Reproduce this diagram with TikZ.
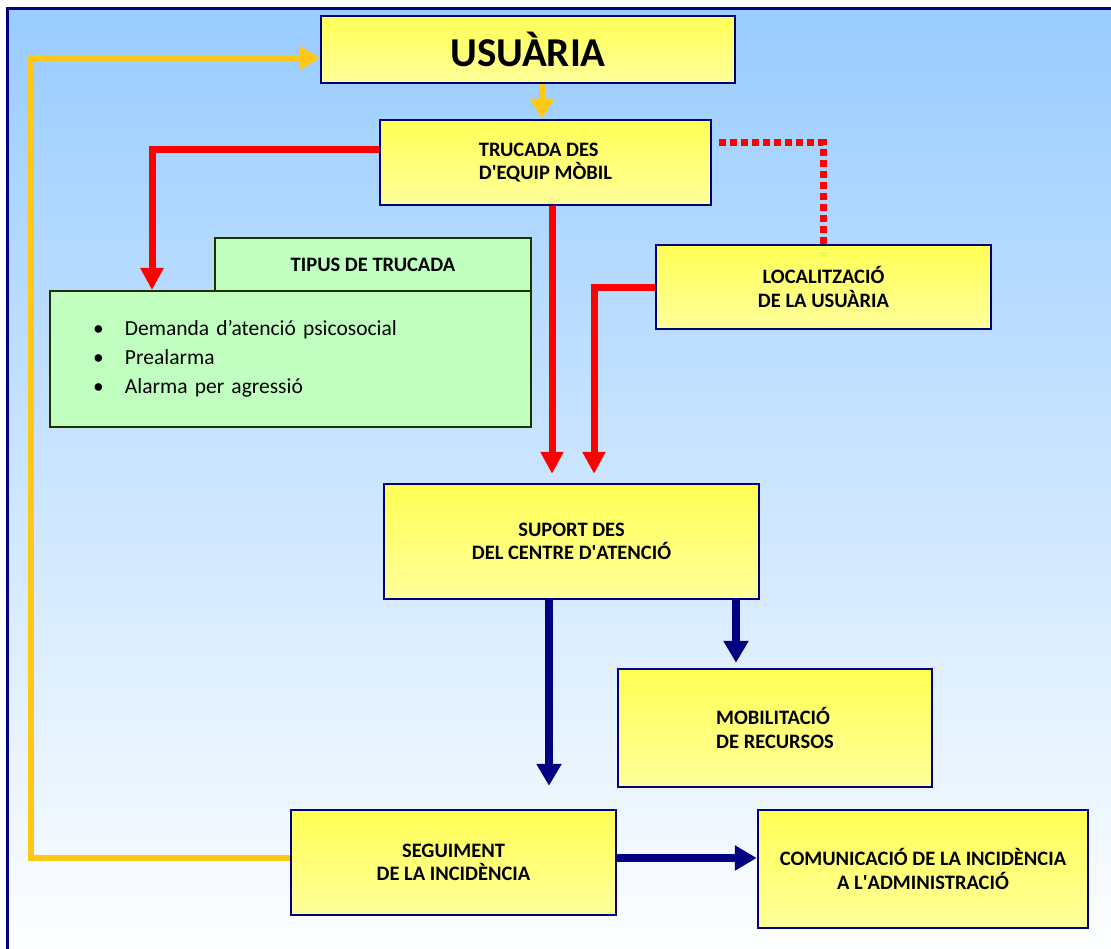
\documentclass[tikz,border=0pt]{standalone}
\usepackage{fontspec}
\setmainfont{Carlito}
\usetikzlibrary{arrows.meta}
\definecolor{navyline}{RGB}{0,0,128}
\definecolor{skytop}{RGB}{153,204,255}
\definecolor{boxtop}{RGB}{255,255,85}
\definecolor{boxbottom}{RGB}{255,255,155}
\definecolor{mintfill}{RGB}{192,255,192}
\definecolor{darkgreen}{RGB}{30,50,0}
\definecolor{goldline}{RGB}{255,200,20}
\tikzstyle{yellow box}=[
    draw = navyline,
    line width = 2.5pt,
    top color = boxtop,
    bottom color = boxbottom,
    inner sep = 0pt,
    align = center,
    font = \fontsize{20.5}{23.5}\selectfont\bfseries
]
\tikzstyle{green box}=[
    draw = darkgreen,
    line width = 2pt,
    fill = mintfill,
    inner sep = 0pt
]

\begin{document}
\begin{tikzpicture}[x=1pt, y=-1pt,
    red arrow/.style = {draw=red, line width=7pt, -{Triangle[width=22pt,length=22pt]}},
    navy arrow/.style = {draw=navyline, line width=8pt, -{Triangle[width=24pt,length=22pt]}},
    gold arrow/.style = {draw=goldline, line width=6.5pt, -{Triangle[width=23pt,length=20pt]}}]
        \useasboundingbox (0,0) rectangle (1111,949);
        \shade[top color=skytop, bottom color=white] (7.5,8.5) rectangle (1125,965);
        \draw[navyline, line width=2.5pt] (7.5,8.5) rectangle (1125,965);

        \node[yellow box, minimum width=414pt, minimum height=67pt, font=\fontsize{41}{49}\selectfont\bfseries] (usuaria) at (528,49.5) {USUÀRIA};
        \node[yellow box, minimum width=331pt, minimum height=85pt, align=left] (trucada) at (545.5,162.5) {TRUCADA DES\\D\textquotesingle EQUIP MÒBIL};
        \node[green box, minimum width=316pt, minimum height=54pt, font=\fontsize{20.5}{23.5}\selectfont\bfseries] (tipustab) at (373,265) {TIPUS DE TRUCADA};
        \node[green box, minimum width=481pt, minimum height=136pt, text width=395pt, inner xsep=43pt, align=left, font=\fontsize{21.5}{29}\selectfont] (tipusbox) at (290.5,359) {\makebox[32pt][l]{\textbullet}Demanda d’atenció psicosocial\\\makebox[32pt][l]{\textbullet}Prealarma\\\makebox[32pt][l]{\textbullet}Alarma per agressió};
        \node[yellow box, minimum width=335pt, minimum height=84pt] (localitzacio) at (823.5,287) {LOCALITZACIÓ\\DE LA USUÀRIA};
        \node[yellow box, minimum width=375pt, minimum height=115pt] (suport) at (571.5,541.5) {SUPORT DES\\DEL CENTRE D\textquotesingle ATENCIÓ};
        \node[yellow box, minimum width=314pt, minimum height=118pt, align=left] (mobilitacio) at (775,728) {MOBILITACIÓ\\DE RECURSOS};
        \node[yellow box, minimum width=325pt, minimum height=105pt] (seguiment) at (453.5,862.5) {SEGUIMENT\\DE LA INCIDÈNCIA};
        \node[yellow box, minimum width=330pt, minimum height=118pt] (comunicacio) at (923,869) {COMUNICACIÓ DE LA INCIDÈNCIA\\A L\textquotesingle ADMINISTRACIÓ};
        \coordinate (turn) at (31,58);

        \draw[gold arrow] ([xshift=14pt]usuaria.south) -- ([xshift=-3.5pt]trucada.north);
        \draw[gold arrow] ([yshift=4.5pt]seguiment.west) -| (turn) -- ([yshift=-8.5pt]usuaria.west);
        \draw[red arrow] ([yshift=12.5pt]trucada.west) -| ([xshift=103pt]tipusbox.north west);
        \draw[red arrow, shorten >=9pt] ([xshift=6.5pt]trucada.south) -- ([xshift=-19.5pt]suport.north);
        \draw[red arrow, shorten >=9pt] ([yshift=-1pt]localitzacio.west) -| ([xshift=22.5pt]suport.north);
        \draw[red, line width=7pt, dash pattern=on 7pt off 4pt] ([xshift=7pt,yshift=19.5pt]trucada.east) -| (localitzacio.north);
        \draw[navy arrow, shorten >=23pt] ([xshift=-22.5pt]suport.south) -- ([xshift=95.5pt]seguiment.north);
        \draw[navy arrow, shorten >=5pt] ([xshift=164.5pt]suport.south) -- ([xshift=-39pt]mobilitacio.north);
        \draw[navy arrow] ([yshift=4.5pt]seguiment.east) -- ([yshift=11pt]comunicacio.west);

    \end{tikzpicture}
\end{document}
